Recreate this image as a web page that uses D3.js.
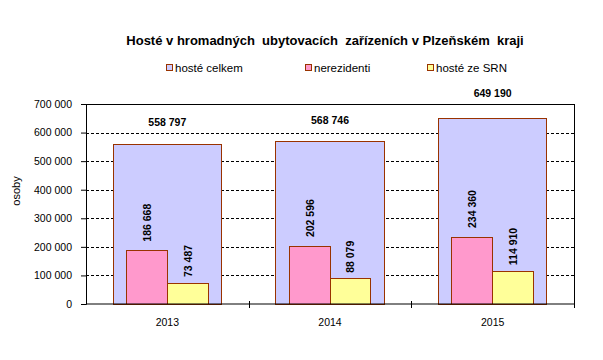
<!DOCTYPE html>
<html><head><meta charset="utf-8">
<script src="https://cdn.jsdelivr.net/npm/d3@7"></script>
<style>body{margin:0;background:#fff}svg{display:block}text{font-family:"Liberation Sans",Arial,sans-serif}</style>
</head><body>
<script>
const years = ["2013","2014","2015"];
const hosteCelkem = [558797, 568746, 649190];
const nerezidenti = [186668, 202596, 234360];
const hosteSRN = [73487, 88079, 114910];
const yTicks = [0,100000,200000,300000,400000,500000,600000,700000];
const seriesNames = ["hosté celkem","nerezidenti","hosté ze SRN"];
const colors = ["#CCCCFF","#FF99CC","#FFFF99"];

const W=603,H=360;
const m={l:86,r:29,t:104,b:56};
const svg=d3.select("body").append("svg").attr("width",W).attr("height",H);
const x=d3.scaleBand().domain(years).range([m.l,W-m.r]);
const y=d3.scaleLinear().domain([0,700000]).range([H-m.b,m.t]);
const fmt=v=>d3.format(",")(v).replace(/,/g," ");
const stroke="#993300";

// gridlines
svg.append("g").selectAll("line").data(yTicks.filter(t=>t>0&&t<700000)).join("line")
 .attr("x1",m.l).attr("x2",W-m.r).attr("y1",d=>Math.round(y(d))+0.5).attr("y2",d=>Math.round(y(d))+0.5)
 .attr("stroke","#000").attr("stroke-dasharray","3,2").attr("stroke-width",1);

const bw=x.bandwidth();
const bigW=bw*0.664, smW=bw*0.252;
// big bars
svg.append("g").selectAll("rect").data(years).join("rect")
 .attr("x",d=>x(d)+(bw-bigW)/2).attr("width",bigW)
 .attr("y",(d,i)=>y(hosteCelkem[i])).attr("height",(d,i)=>y(0)-y(hosteCelkem[i]))
 .attr("fill",colors[0]).attr("stroke",stroke).attr("shape-rendering","crispEdges");
svg.append("g").selectAll("rect").data(years).join("rect")
 .attr("x",d=>x(d)+bw/2-smW).attr("width",smW)
 .attr("y",(d,i)=>y(nerezidenti[i])).attr("height",(d,i)=>y(0)-y(nerezidenti[i]))
 .attr("fill",colors[1]).attr("stroke",stroke).attr("shape-rendering","crispEdges");
svg.append("g").selectAll("rect").data(years).join("rect")
 .attr("x",d=>x(d)+bw/2).attr("width",smW)
 .attr("y",(d,i)=>y(hosteSRN[i])).attr("height",(d,i)=>y(0)-y(hosteSRN[i]))
 .attr("fill",colors[2]).attr("stroke",stroke).attr("shape-rendering","crispEdges");

// plot border top/right
svg.append("line").attr("x1",m.l).attr("x2",W-m.r).attr("y1",m.t+0.5).attr("y2",m.t+0.5).attr("stroke","#000");
svg.append("line").attr("x1",W-m.r+0.5).attr("x2",W-m.r+0.5).attr("y1",m.t).attr("y2",H-m.b).attr("stroke","#000");

// y axis
const ya=svg.append("g").attr("transform",`translate(${m.l},0)`)
 .call(d3.axisLeft(y).tickValues(yTicks).tickFormat(fmt).tickSize(5).tickPadding(9));
ya.select(".domain").attr("stroke","#000");
ya.selectAll("text").attr("font-size","10.5px").attr("fill","#000");
// x axis
const xa=svg.append("g").attr("transform",`translate(0,${H-m.b})`);
xa.append("line").attr("x1",m.l).attr("x2",W-m.r).attr("stroke","#000");
const bounds=years.map(d=>x(d)).concat([W-m.r]);
xa.selectAll(".tk").data(bounds.slice(1)).join("line").attr("class","tk")
 .attr("x1",d=>Math.round(d)+0.5).attr("x2",d=>Math.round(d)+0.5).attr("y1",-3).attr("y2",4).attr("stroke","#000");
xa.selectAll(".lb").data(years).join("text").attr("class","lb")
 .attr("x",d=>x(d)+bw/2).attr("y",22).attr("text-anchor","middle").attr("font-size","10.5px").text(d=>d);

// value labels
svg.append("g").selectAll("text").data(years).join("text")
 .attr("x",d=>x(d)+bw/2).attr("y",(d,i)=>y(hosteCelkem[i])-(i===2?22:18)).attr("text-anchor","middle")
 .attr("font-size","10.5px").attr("font-weight","bold").text((d,i)=>fmt(hosteCelkem[i]));
svg.append("g").selectAll("text").data(years).join("text")
 .attr("transform",(d,i)=>`translate(${x(d)+bw/2-smW/2+4},${y(nerezidenti[i])-9}) rotate(-90)`)
 .attr("font-size","10.5px").attr("font-weight","bold").text((d,i)=>fmt(nerezidenti[i]));
svg.append("g").selectAll("text").data(years).join("text")
 .attr("transform",(d,i)=>`translate(${x(d)+bw/2+smW/2+4},${y(hosteSRN[i])-6}) rotate(-90)`)
 .attr("font-size","10.5px").attr("font-weight","bold").text((d,i)=>fmt(hosteSRN[i]));

// y title
svg.append("text").attr("transform","translate(20,191) rotate(-90)").attr("text-anchor","middle")
 .attr("font-size","11px").text("osoby");

// title
svg.append("text").attr("x",325).attr("y",45).attr("text-anchor","middle").attr("font-size","13px")
 .attr("font-weight","bold").style("white-space","pre")
 .text("Hosté v hromadných  ubytovacích  zařízeních v Plzeňském  kraji");

// legend
const lx=[166,305,427];
const lg=svg.append("g").selectAll("g").data(seriesNames).join("g").attr("transform",(d,i)=>`translate(${lx[i]},68)`);
lg.append("rect").attr("x",0.5).attr("y",-3.5).attr("width",6).attr("height",6).attr("fill",(d,i)=>colors[i]).attr("stroke",stroke);
lg.append("text").attr("x",9).attr("y",4).attr("font-size","11.5px").text(d=>d);
</script>
</body></html>
